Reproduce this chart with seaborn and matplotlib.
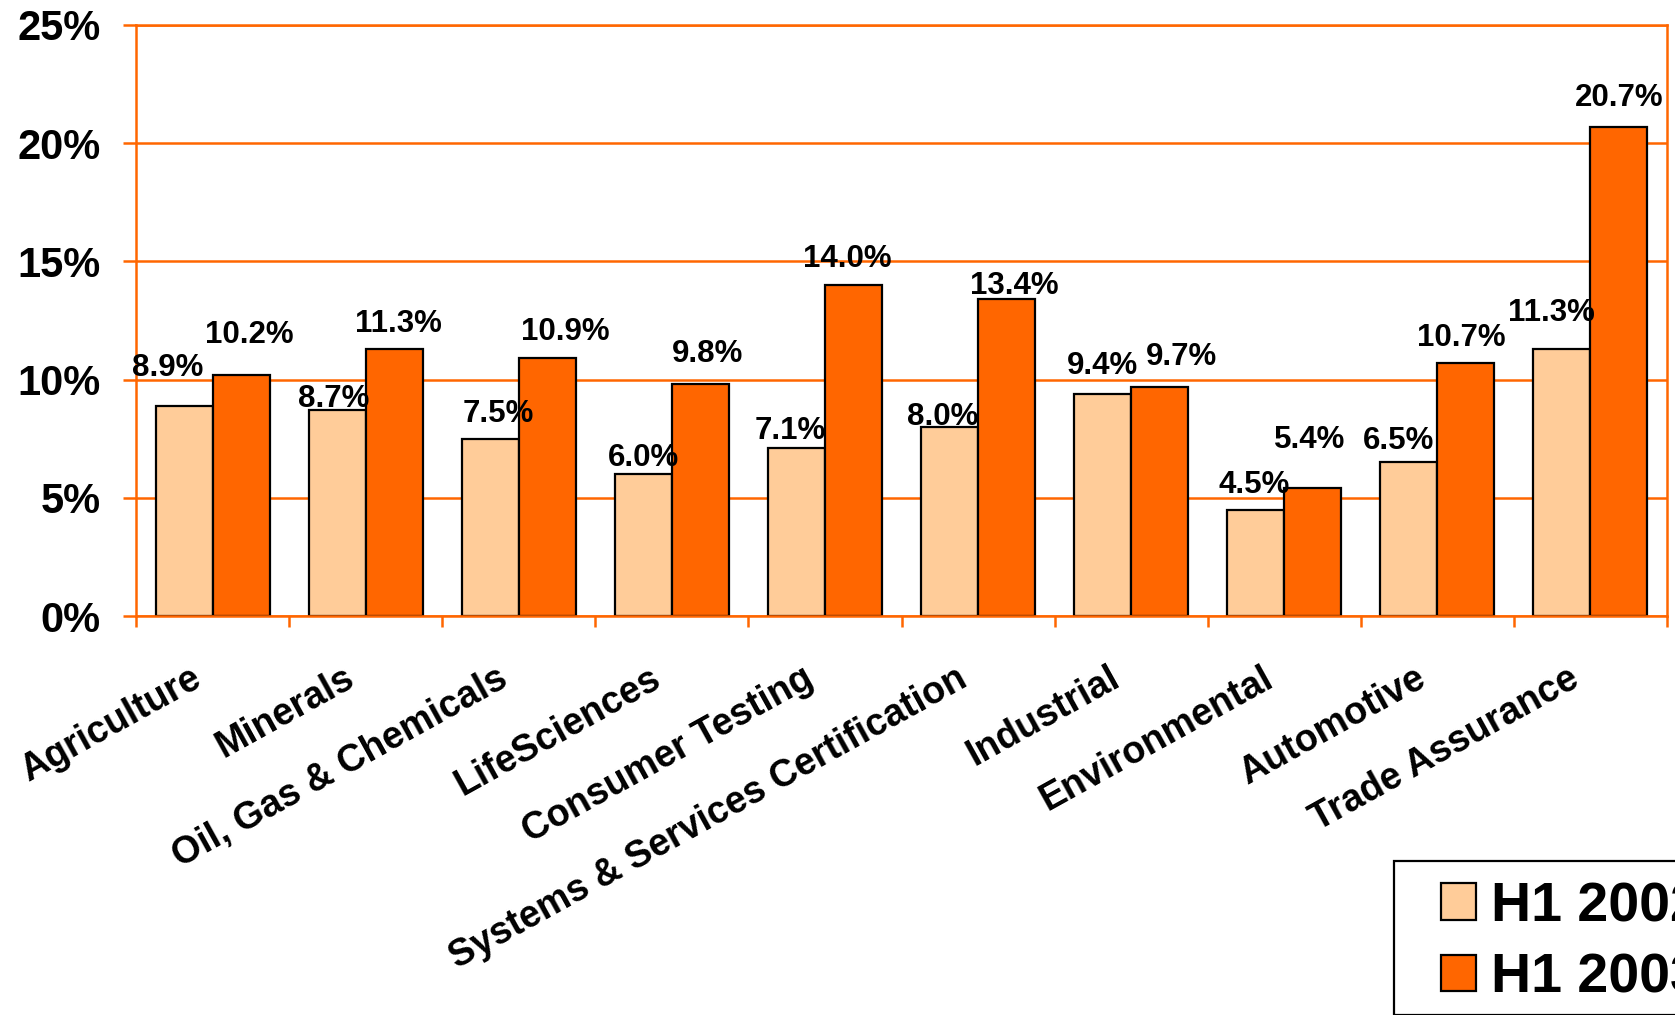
import numpy as np
import pandas as pd
import matplotlib
matplotlib.use("Agg")
import matplotlib.pyplot as plt
from matplotlib.patches import Rectangle
import seaborn as sns

# ---- data ----
categories = ["Agriculture", "Minerals", "Oil, Gas & Chemicals", "LifeSciences",
              "Consumer Testing", "Systems & Services Certification", "Industrial",
              "Environmental", "Automotive", "Trade Assurance"]
series_names = ["H1 2002", "H1 2003"]
h1_2002 = [8.9, 8.7, 7.5, 6.0, 7.1, 8.0, 9.4, 4.5, 6.5, 11.3]
h1_2003 = [10.2, 11.3, 10.9, 9.8, 14.0, 13.4, 9.7, 5.4, 10.7, 20.7]
y_ticks = [0, 5, 10, 15, 20, 25]

# ---- layout tweaks (pixel offsets of labels, as placed in the original) ----
lab_dx_2002 = [-16, -3, 8, 0, -6, -7, 0, -2, -10, -10]
lab_dy_2002 = [30, 3, 17, 8, 9, 2, 20, 17, 13, 28]
lab_dx_2003 = [8, 4, 18, 7, -6, 8, 22, -3, -5, 0]
lab_dy_2003 = [32, 17, 18, 22, 18, 5, 22, 40, 17, 21]

LIGHT = "#FFCC99"
DARK = "#FF6600"
GRID = "#FF6600"

df = pd.DataFrame({
    "Category": categories * 2,
    "Series": [series_names[0]] * len(categories) + [series_names[1]] * len(categories),
    "Value": h1_2002 + h1_2003,
})

sns.set_theme(style="white")
plt.rcParams["font.family"] = ["Liberation Sans", "DejaVu Sans"]
plt.rcParams["font.weight"] = "bold"
plt.rcParams["text.color"] = "black"
plt.rcParams["xtick.color"] = "black"
plt.rcParams["ytick.color"] = "black"

W, H = 1675, 1015
fig = plt.figure(figsize=(W / 100, H / 100), dpi=100)
L, R, T, B = 136, 1667, 25, 616
ax = fig.add_axes([L / W, 1 - B / H, (R - L) / W, (B - T) / H])

sns.barplot(data=df, x="Category", y="Value", hue="Series", order=categories,
            hue_order=series_names, palette=[LIGHT, DARK], saturation=1,
            width=0.745, edgecolor="black", linewidth=1.6, ax=ax, errorbar=None)

ax.set_xlim(-0.5, len(categories) - 0.5)
ax.set_ylim(0, 25)
ax.set_yticks(y_ticks)
ax.set_yticklabels([f"{v}%" for v in y_ticks], fontsize=30, fontweight="bold",
                   color="black")
ax.set_xlabel("")
ax.set_ylabel("")
ax.yaxis.grid(True, color=GRID, linewidth=1.8)
ax.xaxis.grid(False)
ax.set_axisbelow(True)
for s in ["left", "bottom", "right", "top"]:
    ax.spines[s].set_visible(True)
    ax.spines[s].set_color(GRID)
    ax.spines[s].set_linewidth(1.8)

ax.tick_params(axis="y", which="major", length=9.5, width=1.8, color=GRID,
               labelcolor="black", direction="out", pad=16, left=True)
ax.set_xticks(range(len(categories)))
ax.set_xticklabels([""] * len(categories))
ax.tick_params(axis="x", which="major", length=0)
ax.set_xticks(np.arange(-0.5, len(categories), 1), minor=True)
ax.tick_params(axis="x", which="minor", length=8, width=1.8, color=GRID,
               direction="out", bottom=True)

# rotated category labels (right end just left of each category centre)
for i, c in enumerate(categories):
    ax.annotate(c, xy=(i, 0), xycoords=("data", "axes fraction"),
                xytext=(-14, -60), textcoords="offset pixels",
                rotation=29, rotation_mode="anchor", ha="right", va="center",
                fontsize=27, fontweight="bold", color="black")

# value labels
containers = ax.containers
for cont, vals, dxs, dys in [(containers[0], h1_2002, lab_dx_2002, lab_dy_2002),
                             (containers[1], h1_2003, lab_dx_2003, lab_dy_2003)]:
    for bar, v, dx, dy in zip(cont.patches, vals, dxs, dys):
        ax.annotate(f"{v:.1f}%", xy=(bar.get_x() + bar.get_width() / 2, bar.get_height()),
                    xytext=(dx, dy), textcoords="offset pixels",
                    ha="center", va="baseline", fontsize=22.5, fontweight="bold",
                    color="black")

# legend
handles, labels = ax.get_legend_handles_labels()
if ax.get_legend() is not None:
    ax.get_legend().remove()
for h in handles:
    h.set_edgecolor("black")
    h.set_linewidth(1.6)
leg = fig.legend(handles, labels, loc="upper left",
                 bbox_to_anchor=(1441 / W, 1 - 881 / H), bbox_transform=fig.transFigure,
                 frameon=False, prop={"weight": "bold", "size": 40},
                 handlelength=0.63, handleheight=0.63, handletextpad=0.27,
                 labelspacing=0.35, borderpad=0, borderaxespad=0)
for t in leg.get_texts():
    t.set_color("black")
fig.patches.append(Rectangle((1394 / W, 0), 400 / W, 1 - 861 / H,
                             transform=fig.transFigure, fill=False,
                             edgecolor="black", linewidth=1.6, clip_on=False))

fig.savefig("out.png", dpi=100)
